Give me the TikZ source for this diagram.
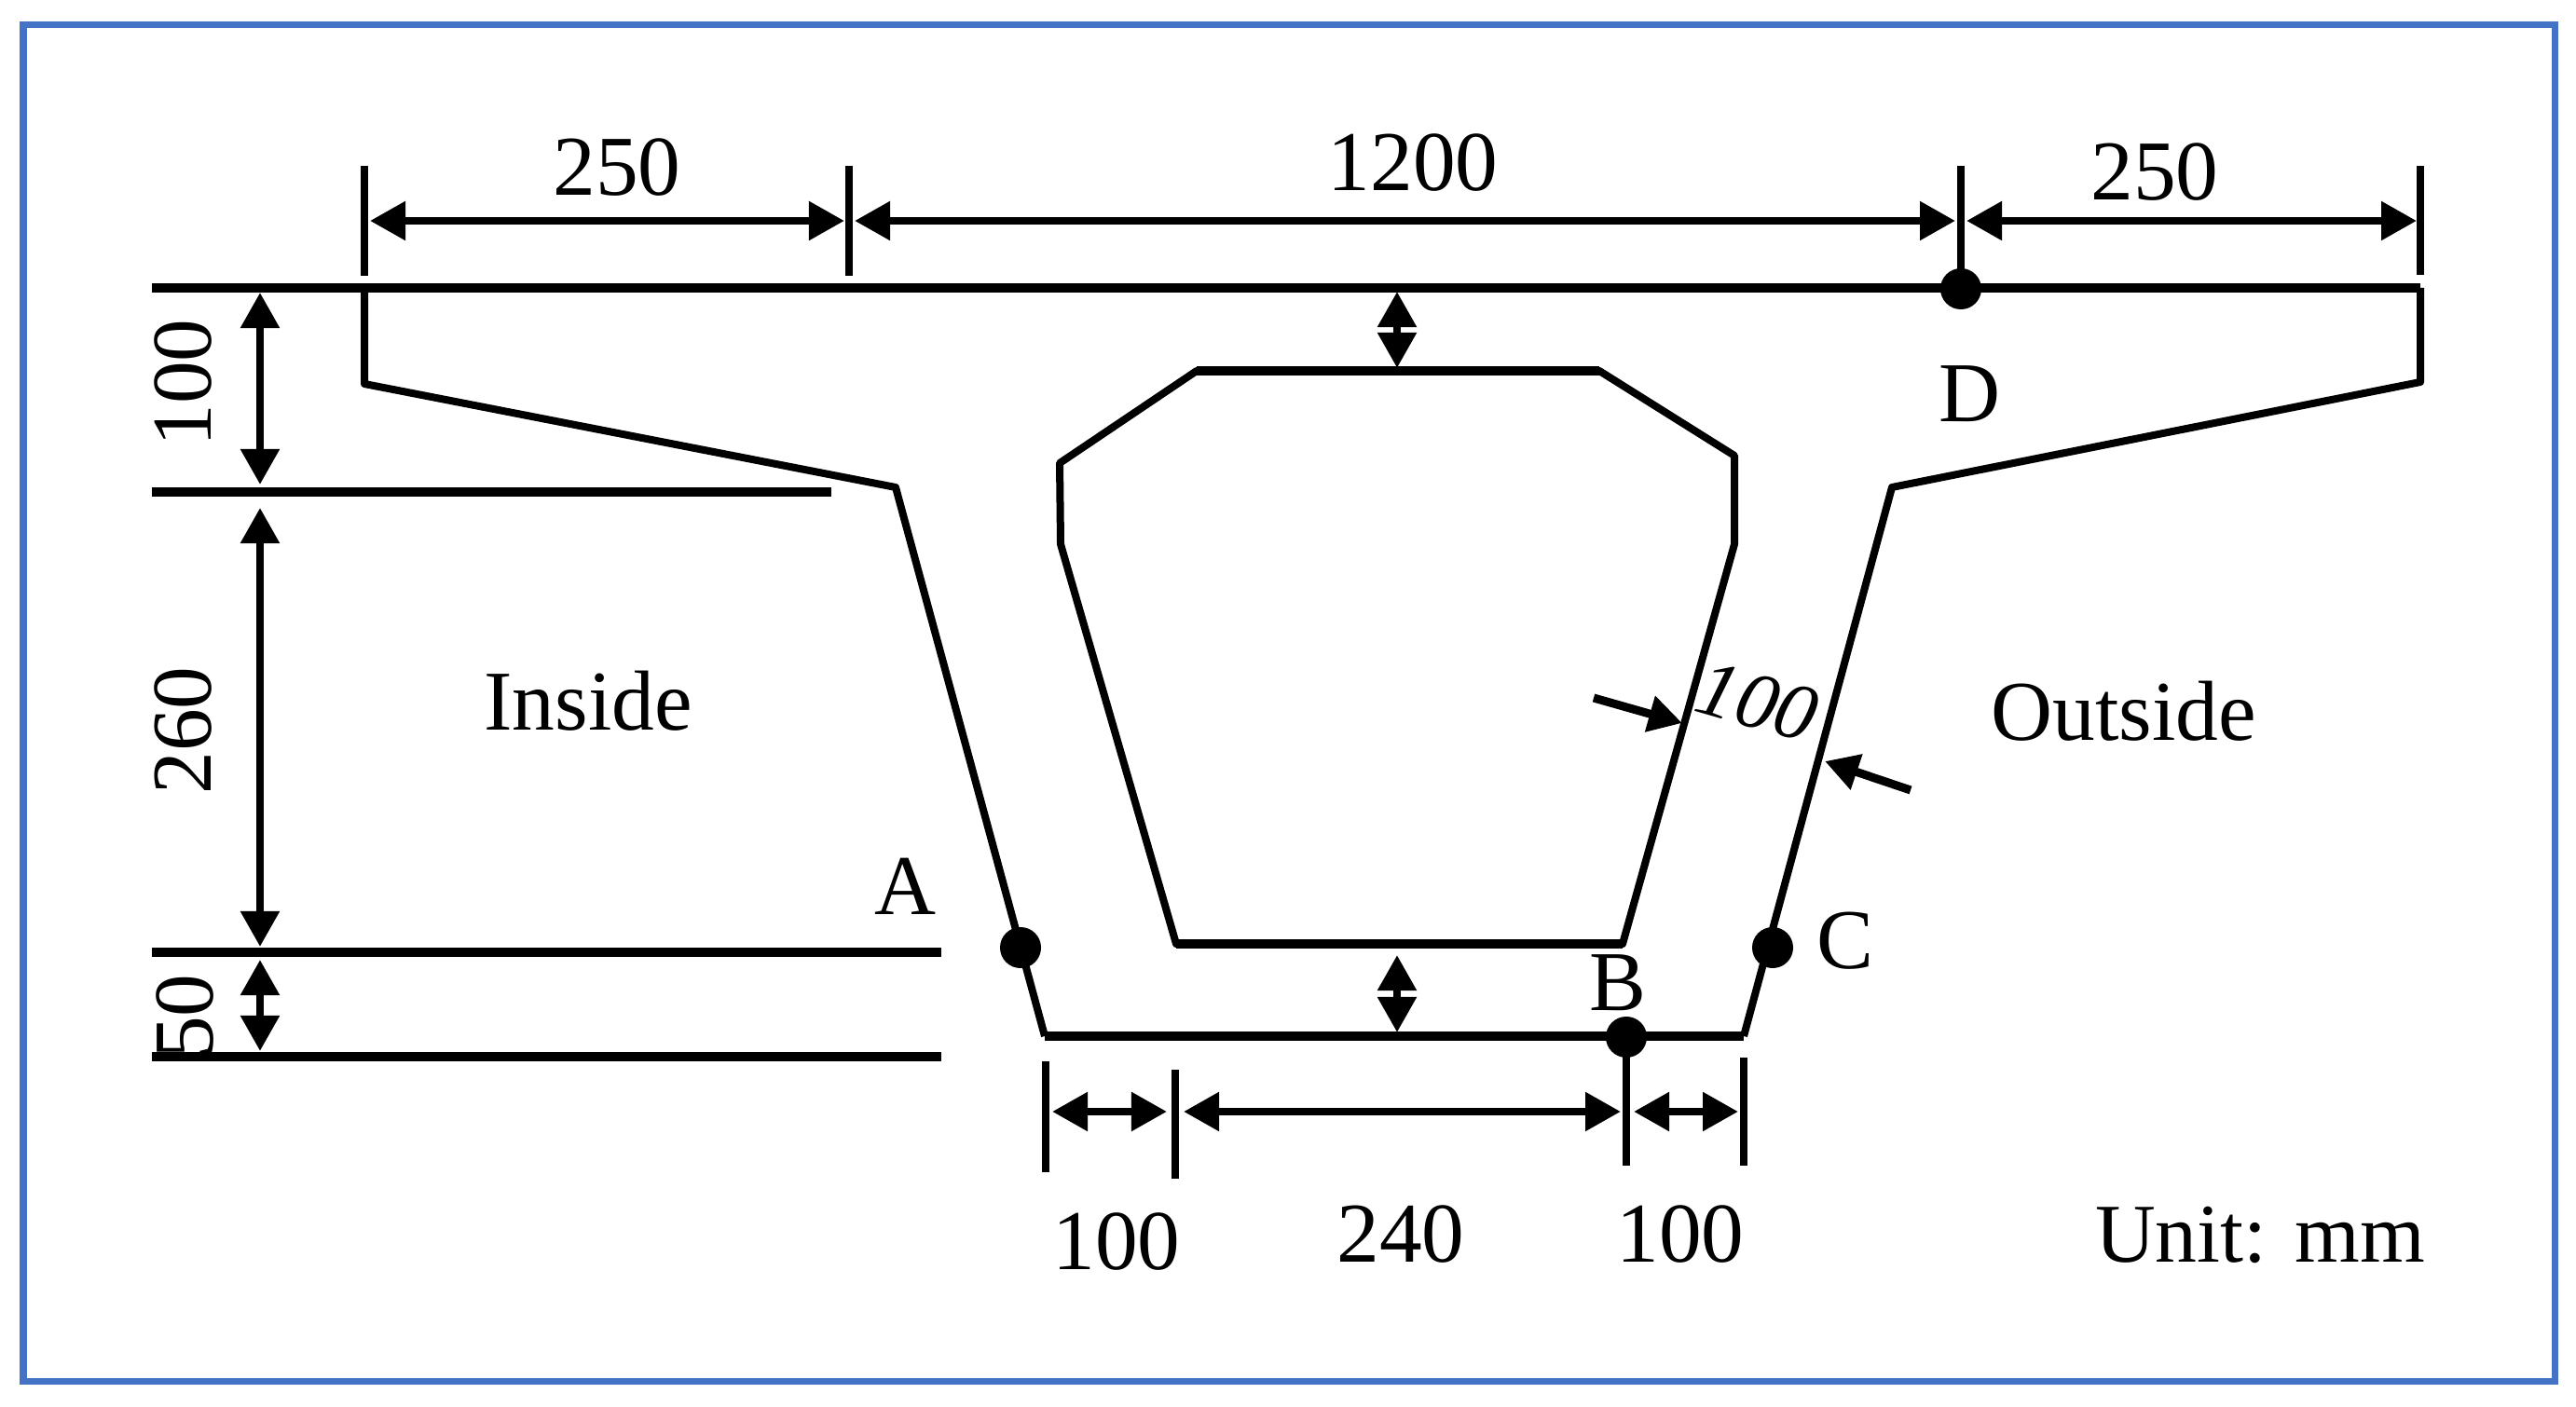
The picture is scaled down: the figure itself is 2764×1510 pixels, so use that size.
\documentclass[tikz,border=0pt]{standalone}
\usepackage{fontspec}
\setmainfont{Liberation Serif}
\usetikzlibrary{arrows.meta}
\tikzset{
  outline/.style={line width=.08cm, line join=round, black},
  thick line/.style={line width=.095cm, black},
  ticks/.style={line width=.08cm, black},
  dimline/.style={line width=.085cm, black, {Triangle[length=.38cm,width=.40cm]}-{Triangle[length=.38cm,width=.40cm]}},
  singledim/.style={line width=.09cm, black, -{Triangle[length=.36cm,width=.38cm]}},
  label/.style={font=\fontsize{26}{31}\selectfont, inner sep=0pt, anchor=base, text=black},
  dot/.style={circle, fill=black, draw=none, minimum width=.44cm, minimum height=.44cm, inner sep=0pt},
  frame/.style={draw={rgb,255:red,68;green,114;blue,196}, line width=.07cm, outer sep=0pt}
}
\begin{document}
\begin{tikzpicture}[x=.01cm,y=-.01cm]
\useasboundingbox (0,0) rectangle (2764,1510);
\fill[white] (0,0) rectangle (2764,1510);
\node[frame, draw, minimum width=27.15cm, minimum height=14.55cm, inner sep=0pt, anchor=north west] (border) at (25,27) {};

% section outline
\coordinate (tl) at (391,309); \coordinate (tr) at (2597,309);
\coordinate (fl) at (391,412); \coordinate (fr) at (2597,410);
\coordinate (wl) at (961,523); \coordinate (wr) at (2030,523);
\coordinate (bl) at (1121,1112); \coordinate (br) at (1871,1112);
\coordinate (refL) at (163,309);
\draw[thick line] (refL) -- (tr);
\draw[outline] (tl) -- (fl) -- (wl) -- (bl);
\draw[outline] (tr) -- (fr) -- (wr) -- (br);
\draw[thick line] (bl) -- (br);

% hollow
\draw[outline] (1284,398) -- (1716,398) -- (1861,489) -- (1861,584) -- (1741,1013) -- (1262,1013) -- (1138,584) -- (1137,497) -- cycle;
\draw[thick line] (1284,398) -- (1716,398);
\draw[thick line] (1262,1013) -- (1741,1013);

% level lines
\coordinate (l2a) at (163,528); \coordinate (l2b) at (892,528);
\coordinate (l3a) at (163,1022); \coordinate (l3b) at (1010,1022);
\coordinate (l4a) at (163,1134); \coordinate (l4b) at (1010,1134);
\draw[thick line] (l2a) -- (l2b);
\draw[thick line] (l3a) -- (l3b);
\draw[thick line] (l4a) -- (l4b);

% points
\node[dot] (ptA) at (1095,1017) {};
\node[dot] (ptB) at (1745,1113) {};
\node[dot] (ptC) at (1902,1017) {};
\node[dot] (ptD) at (2104,310) {};

% top ticks
\coordinate (t1a) at (391,178); \coordinate (t1b) at (391,296);
\coordinate (t2a) at (911,178); \coordinate (t2b) at (911,296);
\coordinate (t3a) at (2104,178);
\coordinate (t4a) at (2597,178); \coordinate (t4b) at (2597,295);
\draw[ticks] (t1a) -- (t1b);
\draw[ticks] (t2a) -- (t2b);
\draw[ticks] (t3a) -- (ptD.center);
\draw[ticks] (t4a) -- (t4b);

% top dimensions
\coordinate (d1a) at (397,237); \coordinate (d1b) at (906,237);
\coordinate (d2a) at (917,237); \coordinate (d2b) at (2098,237);
\coordinate (d3a) at (2110,237); \coordinate (d3b) at (2593,237);
\draw[dimline] (d1a) -- (d1b);
\draw[dimline] (d2a) -- (d2b);
\draw[dimline] (d3a) -- (d3b);

% left dimensions
\coordinate (v1a) at (279,314); \coordinate (v1b) at (279,520);
\coordinate (v2a) at (279,545); \coordinate (v2b) at (279,1016);
\coordinate (v3a) at (279,1030); \coordinate (v3b) at (279,1128);
\draw[dimline] (v1a) -- (v1b);
\draw[dimline] (v2a) -- (v2b);
\draw[dimline] (v3a) -- (v3b);

% thickness arrows
\coordinate (c1a) at (1499,313); \coordinate (c1b) at (1499,395);
\coordinate (c2a) at (1499,1025); \coordinate (c2b) at (1499,1108);
\draw[dimline] (c1a) -- (c1b);
\draw[dimline] (c2a) -- (c2b);

% web thickness arrows
\coordinate (w1a) at (1710,749); \coordinate (w1b) at (1805,776);
\coordinate (w2a) at (2050,848); \coordinate (w2b) at (1958,817);
\draw[singledim] (w1a) -- (w1b);
\draw[singledim] (w2a) -- (w2b);

% bottom ticks
\coordinate (b1a) at (1122,1139); \coordinate (b1b) at (1122,1258);
\coordinate (b2a) at (1261,1148); \coordinate (b2b) at (1261,1265);
\coordinate (b3b) at (1745,1251);
\coordinate (b4a) at (1871,1135); \coordinate (b4b) at (1871,1251);
\draw[ticks] (b1a) -- (b1b);
\draw[ticks] (b2a) -- (b2b);
\draw[ticks] (ptB.center) -- (b3b);
\draw[ticks] (b4a) -- (b4b);

% bottom dimensions
\coordinate (h1a) at (1129,1193); \coordinate (h1b) at (1252,1193);
\coordinate (h2a) at (1270,1193); \coordinate (h2b) at (1739,1193);
\coordinate (h3a) at (1753,1193); \coordinate (h3b) at (1865,1193);
\draw[dimline] (h1a) -- (h1b);
\draw[dimline] (h2a) -- (h2b);
\draw[dimline] (h3a) -- (h3b);

% labels
\node[label] (n250a) at (662,210) {250};
\node[label] (n1200) at (1516,205) {1200};
\node[label] (n250b) at (2312,215) {250};
\node[label,rotate=90] (n100v) at (226,411) {100};
\node[label,rotate=90] (n260) at (226,784) {260};
\node[label,rotate=90] (n50) at (228,1091) {50};
\node[label] (inside) at (631,784) {Inside};
\node[label] (outside) at (2279,795) {Outside};
\node[label] (lA) at (971,981) {A};
\node[label] (lB) at (1736,1084) {B};
\node[label] (lC) at (1980,1039) {C};
\node[label] (lD) at (2113,453) {D};
\node[label,rotate=-16,font=\fontsize{24.5}{29}\selectfont\itshape] (n100s) at (1878,780) {100};
\node[label] (n100a) at (1198,1362) {100};
\node[label] (n240) at (1503,1354) {240};
\node[label] (n100b) at (1803,1354) {100};
\node[label,font=\fontsize{25.5}{31}\selectfont] (unit) at (2425,1354) {Unit: mm};
\end{tikzpicture}
\end{document}
